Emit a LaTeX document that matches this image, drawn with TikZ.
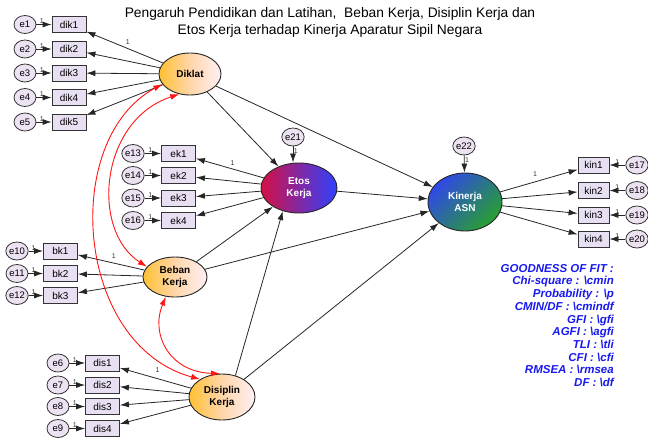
\documentclass[tikz,border=0pt]{standalone}
\usepackage{fontspec}
\setmainfont{Liberation Sans}
\usetikzlibrary{arrows.meta,shapes.geometric}
\definecolor{boxfill}{RGB}{232,224,242}
\definecolor{errfill}{RGB}{236,226,242}
\definecolor{orgA}{RGB}{255,192,50}
\definecolor{orgM}{RGB}{255,214,170}
\definecolor{orgB}{RGB}{255,240,244}
\definecolor{etsA}{RGB}{214,16,68}
\definecolor{etsB}{RGB}{48,64,255}
\definecolor{kinA}{RGB}{48,72,232}
\definecolor{kinB}{RGB}{40,160,48}
\definecolor{gofblue}{RGB}{24,24,240}
\definecolor{covred}{RGB}{255,20,20}
\begin{document}
\begin{tikzpicture}[x=1pt,y=-1pt,
 obs/.style={draw=black!80, fill=boxfill, minimum width=34pt, minimum height=16pt, inner sep=0pt, line width=0.8pt, font=\fontsize{10}{10}\selectfont},
 err/.style={ellipse, draw=black!80, fill=errfill, minimum width=22pt, minimum height=18pt, inner sep=0pt, line width=0.8pt, font=\fontsize{9.5}{10}\selectfont},
 lat/.style={ellipse, draw=black!85, line width=0.9pt, inner sep=0pt, align=center, font=\bfseries\fontsize{10}{12}\selectfont},
 warm/.style={left color=orgA, right color=orgB, middle color=orgM},
 arr/.style={-{Latex[length=9pt,width=6pt]}, line width=0.8pt, draw=black!85},
 cov/.style={{Latex[length=9pt,width=6pt]}-{Latex[length=9pt,width=6pt]}, draw=covred, line width=0.9pt},
 one/.style={font=\fontsize{7}{7}\selectfont, inner sep=0.5pt, text=black!80},
 gof/.style={align=right, text=gofblue, font=\bfseries\itshape\fontsize{11.5}{12.7}\selectfont, inner sep=0pt},
 ttl/.style={align=center, font=\fontsize{13.8}{17}\selectfont, inner sep=0pt}
]
\useasboundingbox (0,0) rectangle (648,440);

% title
\node[ttl] (title) at (330,22.5) {Pengaruh Pendidikan dan Latihan,\ \ Beban Kerja, Disiplin Kerja dan\\Etos Kerja terhadap Kinerja Aparatur Sipil Negara};

% latent variables
\node[lat, warm, minimum width=62pt, minimum height=42pt] (dkl) at (190,74) {Diklat};
\node[lat, warm, minimum width=64pt, minimum height=40pt] (bbn) at (175,277) {Beban\\Kerja};
\node[lat, warm, minimum width=66pt, minimum height=46pt] (dsp) at (222,397) {Disiplin\\Kerja};
\node[lat, left color=etsA, right color=etsB, text=white, minimum width=76pt, minimum height=50pt] (ets) at (299,188) {Etos\\Kerja};
\node[lat, top color=kinA, bottom color=kinB, shading angle=45, text=white, minimum width=74pt, minimum height=58pt] (kin) at (465,202) {Kinerja\\ASN};

% Diklat indicators
\foreach \i/\y in {1/24.5,2/49,3/73,4/97.5,5/122}{
  \node[obs] (dik\i) at (69,\y) {dik\i};
  \node[err] (e\i) at (25,\y) {e\i};
}
% Etos indicators
\foreach \i/\e/\y in {1/13/153.5,2/14/175.5,3/15/198,4/16/220.5}{
  \node[obs] (ek\i) at (178.5,\y) {ek\i};
  \node[err] (e\e) at (133,\y) {e\e};
}
% Beban indicators
\foreach \i/\e/\y in {1/10/251,2/11/273.5,3/12/295.5}{
  \node[obs] (bk\i) at (60.5,\y) {bk\i};
  \node[err] (e\e) at (17,\y) {e\e};
}
% Disiplin indicators
\foreach \i/\e/\y in {1/6/363,2/7/385,3/8/406.5,4/9/428.5}{
  \node[obs] (dis\i) at (102.5,\y) {dis\i};
  \node[err] (e\e) at (58,\y) {e\e};
}
% Kinerja indicators
\foreach \i/\e/\y in {1/17/165,2/18/190.5,3/19/215,4/20/239}{
  \node[obs, minimum width=31pt] (kin\i) at (593.5,\y) {kin\i};
  \node[err] (e\e) at (637,\y) {e\e};
}
% structural errors
\node[err] (e21) at (293,137) {e21};
\node[err] (e22) at (464,146) {e22};

% measurement arrows
\foreach \i in {1,...,5}{
  \draw[arr] (e\i) -- (dik\i) node[one, pos=.35, above] {1};
}
\foreach \i in {2,...,5}{ \draw[arr] (dkl) -- (dik\i); }
\draw[arr] (dkl) -- (dik1) node[one, pos=.46, above=3pt] {1};

\foreach \i/\e in {1/13,2/14,3/15,4/16}{
  \draw[arr] (e\e) -- (ek\i) node[one, pos=.35, above] {1};
}
\foreach \i in {2,3,4}{ \draw[arr] (ets) -- (ek\i); }
\draw[arr] (ets) -- (ek1) node[one, pos=.46, above=3pt] {1};

\foreach \i/\e in {1/10,2/11,3/12}{
  \draw[arr] (e\e) -- (bk\i) node[one, pos=.35, above] {1};
}
\foreach \i in {2,3}{ \draw[arr] (bbn) -- (bk\i); }
\draw[arr] (bbn) -- (bk1) node[one, pos=.46, above=4pt] {1};

\foreach \i/\e in {1/6,2/7,3/8,4/9}{
  \draw[arr] (e\e) -- (dis\i) node[one, pos=.35, above] {1};
}
\foreach \i in {2,3,4}{ \draw[arr] (dsp) -- (dis\i); }
\draw[arr] (dsp) -- (dis1) node[one, pos=.47, above=5pt] {1};

\foreach \i/\e in {1/17,2/18,3/19,4/20}{
  \draw[arr] (e\e) -- (kin\i) node[one, pos=.5, above] {1};
}
\foreach \i in {2,3,4}{ \draw[arr] (kin) -- (kin\i); }
\draw[arr] (kin) -- (kin1) node[one, pos=.45, above=4pt] {1};

% structural paths
\draw[arr] (dkl) -- (ets);
\draw[arr] (dkl) -- (kin);
\draw[arr] (bbn) -- (ets);
\draw[arr] (bbn) -- (kin);
\draw[arr] (dsp.58) -- (ets.-125);
\draw[arr] (dsp) -- (kin);
\draw[arr] (ets) -- (kin);
\draw[arr] (e21) -- (e21 |- ets.north) node[one, pos=.3, right] {1};
\draw[arr] (e22) -- (kin) node[one, pos=.3, right] {1};

% covariances
\draw[cov] (dkl.-160) .. controls (60,140) and (75,345) .. (dsp.141);
\draw[cov] (dkl.-118) .. controls (100,120) and (90,230) .. (bbn.160);
\draw[cov] (bbn.-115) .. controls (150,335) and (170,372) .. (dsp.95);

% goodness of fit
\node[gof, anchor=north east] (gof) at (614,264) {GOODNESS OF FIT :\\Chi-square : \textbackslash cmin\\Probability : \textbackslash p\\CMIN/DF : \textbackslash cmindf\\GFI : \textbackslash gfi\\AGFI : \textbackslash agfi\\TLI : \textbackslash tli\\CFI : \textbackslash cfi\\RMSEA : \textbackslash rmsea\\DF : \textbackslash df};
\end{tikzpicture}
\end{document}
